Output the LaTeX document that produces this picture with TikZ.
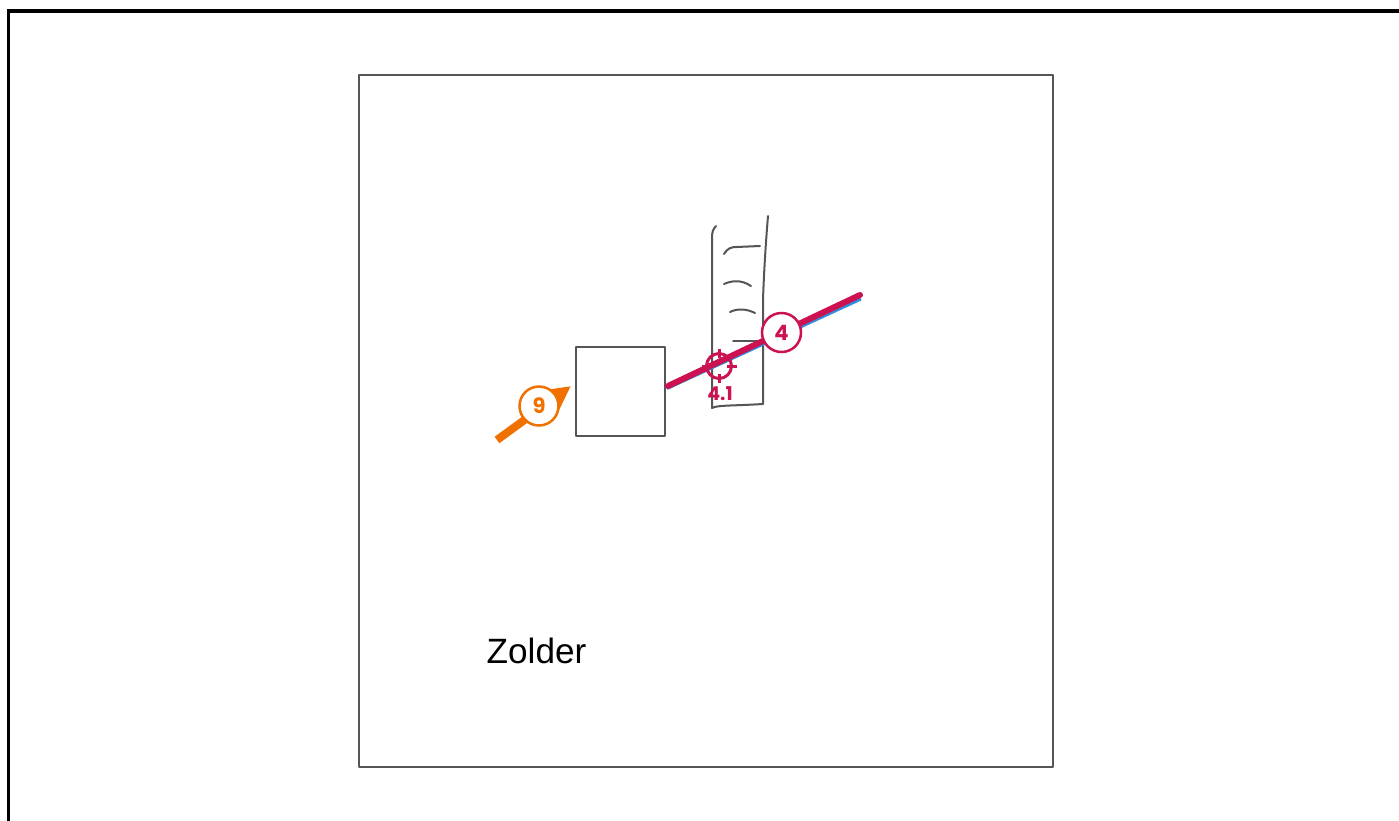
\documentclass[tikz,border=0pt]{standalone}
\usepackage{fontspec}
\setmainfont{Liberation Sans}
\newfontfamily\badgefont{Poppins}
\usetikzlibrary{arrows.meta}

\definecolor{wirepink}{HTML}{CC1250}
\definecolor{wireblue}{HTML}{2E8FDE}
\definecolor{feedorange}{HTML}{F07000}
\definecolor{sketchgray}{HTML}{555555}

\tikzset{
    sketch/.style={draw=sketchgray, line width=0.02cm, line cap=round, line join=round},
    badge/.style={circle, draw=#1, fill=white, text=#1, line width=0.025cm, minimum size=0.39cm, inner sep=0pt, font=\badgefont\bfseries\fontsize{6pt}{6pt}\selectfont},
}

\begin{document}
\begin{tikzpicture}[x=0.01cm, y=-0.01cm]
    \useasboundingbox (0,0) rectangle (1399,821);

    % Frames
    \draw[black, line width=0.03cm] (8.5,821) -- (8.5,11) -- (1399,11);
    \node[sketch, minimum width=6.94cm, minimum height=6.92cm, inner sep=0pt] (zolderframe) at (706,421) {};
    \node[font=\fontsize{10pt}{10pt}\selectfont] (zolderlabel) at (536.5,651) {Zolder};

    % Ladder
    \draw[sketch] (716,226) .. controls (713,229) and (712,232) .. (712,238) -- (712,408) .. controls (718,405) and (730,406) .. (763,404) -- (763,300) .. controls (764,270) and (766,240) .. (768,216);
    \draw[sketch] (724,254) .. controls (728,248) and (731,247) .. (737,247) -- (760,246);
    \draw[sketch] (724,284) .. controls (733,280) and (742,280) .. (751,286);
    \draw[sketch] (730,312) .. controls (738,308) and (747,309) .. (755,313);
    \draw[sketch] (733,341) -- (760,341);

    % Nodes
    \node[sketch, minimum width=0.89cm, minimum height=0.89cm, inner sep=0pt] (box) at (620.5,391.5) {};
    \coordinate (wirestart) at (668,386);
    \coordinate (wireend) at (860,295);
    \coordinate (bluestart) at (667,388.5);
    \coordinate (blueend) at (861,299);
    \coordinate (feedstart) at (497,440);
    \coordinate (feedend) at (571,386);

    % Arrows
    \draw[wireblue, line width=0.03cm] (bluestart) -- (blueend);
    \draw[wirepink, line width=0.06cm, line cap=round] (wirestart) -- (wireend);
    \draw[feedorange, line width=0.08cm, -{Triangle[length=0.27cm, width=0.26cm]}] (feedstart) -- (feedend);

    % Target
    \node[circle, draw=wirepink, line width=0.03cm, minimum size=0.25cm, inner sep=0pt] (target) at (719,366) {};
    \draw[wirepink, line width=0.03cm] (719,349) -- (719,358) (719,374) -- (719,383) (702,366) -- (711,366) (727,366) -- (737,366);
    \node[text=wirepink, inner sep=0pt, font=\badgefont\bfseries\fontsize{5.4pt}{5.4pt}\selectfont] (targetlabel) at (720,394) {4.1};

    % Badges
    \node[badge=wirepink] (badgefour) at (781.5,332.5) {4};
    \node[badge=feedorange] (badgenine) at (539,406) {9};
\end{tikzpicture}
\end{document}
